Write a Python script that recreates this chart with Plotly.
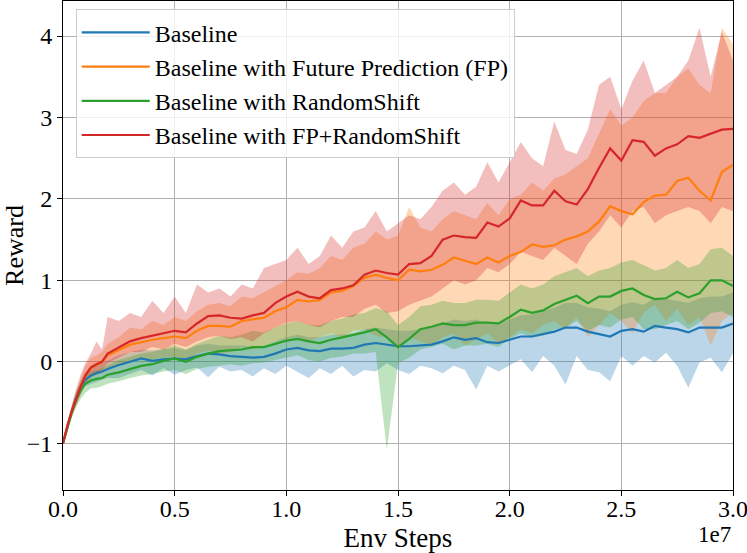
import plotly.graph_objects as go

# Env steps in units of 1e7
env_steps = [0, 0.02, 0.04, 0.06, 0.08, 0.1, 0.125, 0.15, 0.175, 0.2,
             0.25, 0.3, 0.35, 0.4, 0.45, 0.5, 0.55, 0.6, 0.65, 0.7, 0.75, 0.8, 0.85, 0.9, 0.95, 1.0,
             1.05, 1.1, 1.15, 1.2, 1.25, 1.3, 1.35, 1.4, 1.45, 1.5, 1.55, 1.6, 1.65, 1.7, 1.75, 1.8,
             1.85, 1.9, 1.95, 2.0, 2.05, 2.1, 2.15, 2.2, 2.25, 2.3, 2.35, 2.4, 2.45, 2.5, 2.55, 2.6,
             2.65, 2.7, 2.75, 2.8, 2.85, 2.9, 2.95, 3.0]

baseline_mean = [-1.0, -0.79, -0.6, -0.43, -0.3, -0.22, -0.17, -0.14, -0.12, -0.09,
                 -0.04, 0.0, 0.04, 0.01, 0.03, 0.04, 0.03, 0.07, 0.1, 0.09, 0.07, 0.06, 0.05, 0.06, 0.1, 0.15,
                 0.17, 0.14, 0.13, 0.16, 0.16, 0.17, 0.21, 0.23, 0.21, 0.19, 0.19, 0.2, 0.21, 0.25, 0.3, 0.27,
                 0.29, 0.24, 0.23, 0.27, 0.31, 0.31, 0.34, 0.37, 0.42, 0.42, 0.37, 0.34, 0.31, 0.38, 0.4, 0.37,
                 0.44, 0.42, 0.4, 0.36, 0.42, 0.42, 0.42, 0.47]
baseline_low = [-1.02, -0.82, -0.65, -0.5, -0.38, -0.3, -0.27, -0.24, -0.22, -0.2,
                -0.2, -0.15, -0.1, -0.17, -0.08, -0.16, -0.1, -0.07, -0.19, -0.06, -0.12, -0.1, -0.18, -0.08, -0.15, -0.05,
                -0.12, -0.2, -0.08, -0.15, -0.05, -0.18, -0.1, -0.12, -0.02, -0.1, -0.15, -0.05, -0.08, -0.14, -0.05, -0.1,
                -0.34, -0.05, -0.12, -0.05, 0.03, -0.13, 0.07, -0.05, -0.28, 0.07, -0.1, -0.13, -0.24, 0.07, -0.05, 0.07,
                -0.01, 0.11, -0.05, -0.32, -0.01, 0.05, -0.13, 0.1]
baseline_high = [-0.98, -0.76, -0.55, -0.36, -0.22, -0.13, -0.07, -0.05, -0.02, 0.02,
                 0.08, 0.12, 0.15, 0.14, 0.15, 0.17, 0.14, 0.2, 0.22, 0.2, 0.2, 0.2, 0.18, 0.2, 0.25, 0.3,
                 0.33, 0.3, 0.3, 0.33, 0.33, 0.35, 0.4, 0.42, 0.4, 0.38, 0.38, 0.4, 0.42, 0.47, 0.52, 0.5,
                 0.52, 0.47, 0.47, 0.52, 0.57, 0.58, 0.62, 0.66, 0.72, 0.72, 0.67, 0.65, 0.62, 0.7, 0.73, 0.7,
                 0.78, 0.77, 0.75, 0.72, 0.78, 0.8, 0.8, 0.85]

fp_mean = [-1.0, -0.78, -0.6, -0.44, -0.3, -0.17, -0.08, -0.04, -0.01, 0.08,
           0.14, 0.21, 0.24, 0.27, 0.29, 0.31, 0.29, 0.38, 0.44, 0.44, 0.43, 0.5, 0.52, 0.54, 0.62, 0.67,
           0.76, 0.74, 0.76, 0.85, 0.87, 0.93, 1.03, 1.07, 1.03, 1.0, 1.13, 1.11, 1.13, 1.19, 1.28, 1.24,
           1.2, 1.28, 1.22, 1.3, 1.35, 1.44, 1.41, 1.43, 1.5, 1.54, 1.6, 1.72, 1.91, 1.85, 1.81, 1.96,
           2.04, 2.05, 2.22, 2.26, 2.1, 1.98, 2.33, 2.42]
fp_low = [-1.02, -0.82, -0.66, -0.52, -0.4, -0.28, -0.2, -0.16, -0.14, -0.08,
          -0.05, 0.0, 0.02, 0.03, 0.05, 0.06, 0.02, 0.1, 0.14, 0.1, 0.12, 0.18, 0.15, 0.2, 0.25, 0.28,
          0.3, 0.25, 0.3, 0.35, 0.3, 0.38, 0.4, 0.32, 0.3, 0.15, 0.3, 0.25, 0.2, 0.3, 0.35, 0.2,
          0.28, 0.35, 0.22, 0.3, 0.4, 0.35, 0.45, 0.5, 0.4, 0.55, 0.3, 0.45, 0.6, 0.5, 0.35, 0.6,
          0.7, 0.5, 0.65, 0.45, 0.55, 0.2, 0.5, 0.6]
fp_high = [-0.98, -0.74, -0.54, -0.36, -0.2, -0.05, 0.05, 0.08, 0.12, 0.22,
           0.3, 0.42, 0.4, 0.5, 0.45, 0.55, 0.5, 0.62, 0.7, 0.72, 0.68, 0.8, 0.78, 0.85, 0.92, 1.0,
           1.1, 1.08, 1.15, 1.3, 1.25, 1.4, 1.45, 1.6, 1.5, 1.55, 1.9, 1.65, 1.6, 1.75, 1.85, 1.8,
           1.75, 1.95, 1.8, 2.0, 2.05, 2.2, 2.1, 2.25, 2.3, 2.4, 2.5, 2.8, 3.1, 2.9, 3.0, 3.2,
           3.3, 3.3, 3.5, 3.6, 3.4, 3.3, 4.1, 3.9]

rs_mean = [-1.0, -0.8, -0.62, -0.46, -0.35, -0.27, -0.23, -0.21, -0.2, -0.16,
           -0.13, -0.09, -0.05, -0.03, 0.01, 0.04, 0.0, 0.06, 0.1, 0.13, 0.14, 0.15, 0.18, 0.18, 0.22, 0.26,
           0.28, 0.25, 0.23, 0.27, 0.3, 0.33, 0.36, 0.4, 0.3, 0.18, 0.28, 0.4, 0.43, 0.47, 0.45, 0.45,
           0.48, 0.48, 0.47, 0.55, 0.64, 0.6, 0.63, 0.71, 0.76, 0.81, 0.72, 0.8, 0.8, 0.87, 0.9, 0.82,
           0.77, 0.78, 0.86, 0.79, 0.84, 1.0, 1.0, 0.93]
rs_low = [-1.02, -0.84, -0.68, -0.55, -0.45, -0.38, -0.33, -0.32, -0.3, -0.27,
          -0.24, -0.2, -0.17, -0.15, -0.12, -0.1, -0.15, -0.09, -0.06, -0.05, -0.03, -0.05, -0.02, -0.01, 0.02, 0.05,
          0.08, 0.02, 0.0, 0.05, 0.06, 0.1, 0.1, 0.12, -1.08, -0.02, 0.05, 0.15, 0.18, 0.22, 0.15, 0.2,
          0.2, 0.22, 0.18, 0.28, 0.35, 0.3, 0.32, 0.4, 0.42, 0.5, 0.38, 0.45, 0.42, 0.52, 0.55, 0.4,
          0.4, 0.45, 0.5, 0.4, 0.48, 0.6, 0.62, 0.55]
rs_high = [-0.98, -0.76, -0.56, -0.38, -0.26, -0.17, -0.12, -0.1, -0.08, -0.04,
           0.02, 0.06, 0.1, 0.12, 0.16, 0.2, 0.15, 0.22, 0.27, 0.32, 0.3, 0.33, 0.38, 0.36, 0.42, 0.47,
           0.5, 0.45, 0.45, 0.5, 0.53, 0.58, 0.6, 0.66, 0.62, 0.45, 0.55, 0.68, 0.7, 0.75, 0.72, 0.72,
           0.76, 0.76, 0.75, 0.85, 0.95, 0.9, 0.95, 1.05, 1.1, 1.15, 1.05, 1.12, 1.15, 1.22, 1.25, 1.18,
           1.12, 1.15, 1.25, 1.15, 1.2, 1.38, 1.4, 1.3]

fprs_mean = [-1.0, -0.78, -0.6, -0.44, -0.3, -0.17, -0.07, -0.03, 0.0, 0.1,
             0.17, 0.25, 0.29, 0.32, 0.35, 0.38, 0.36, 0.47, 0.56, 0.57, 0.54, 0.53, 0.57, 0.6, 0.72, 0.8,
             0.86, 0.8, 0.78, 0.88, 0.9, 0.94, 1.07, 1.12, 1.09, 1.07, 1.2, 1.21, 1.3, 1.5, 1.55, 1.53,
             1.52, 1.71, 1.66, 1.76, 1.98, 1.92, 1.92, 2.1, 1.97, 1.93, 2.12, 2.38, 2.62, 2.47, 2.72, 2.7,
             2.53, 2.62, 2.67, 2.77, 2.75, 2.8, 2.85, 2.86]
fprs_low = [-1.02, -0.82, -0.66, -0.52, -0.38, -0.26, -0.18, -0.14, -0.1, -0.02,
            0.05, 0.12, 0.12, 0.18, 0.15, 0.22, 0.18, 0.25, 0.3, 0.32, 0.28, 0.3, 0.25, 0.35, 0.42, 0.48,
            0.5, 0.45, 0.42, 0.5, 0.55, 0.55, 0.65, 0.7, 0.6, 0.62, 0.7, 0.75, 0.8, 0.9, 1.0, 0.95,
            1.0, 1.15, 1.1, 1.2, 1.35, 1.3, 1.25, 1.4, 1.3, 1.2, 1.45, 1.6, 1.8, 1.65, 1.85, 1.9,
            1.7, 1.8, 1.85, 1.9, 1.85, 1.7, 1.9, 1.85]
fprs_high = [-0.98, -0.74, -0.52, -0.32, -0.15, -0.02, 0.1, 0.25, 0.15, 0.55,
             0.5, 0.6, 0.55, 0.75, 0.6, 0.8, 0.6, 0.95, 0.85, 0.9, 0.8, 0.95, 0.9, 1.15, 1.2, 1.25,
             1.4, 1.2, 1.3, 1.55, 1.4, 1.6, 1.65, 1.85, 1.6, 1.7, 1.8, 1.75, 1.9, 2.1, 2.2, 2.05,
             2.15, 2.45, 2.2, 2.45, 2.7, 2.5, 2.4, 2.95, 2.6, 2.55, 2.85, 3.4, 3.5, 3.1, 3.45, 3.7,
             3.3, 3.4, 3.5, 3.7, 4.1, 3.5, 4.05, 3.7]

series_names = ["Baseline", "Baseline with Future Prediction (FP)",
                "Baseline with RandomShift", "Baseline with FP+RandomShift"]
colors = ["#1f77b4", "#ff7f0e", "#2ca02c", "#d62728"]
fills = ["rgba(31,119,180,0.3)", "rgba(255,127,14,0.3)",
         "rgba(44,160,44,0.3)", "rgba(214,39,40,0.3)"]
means = [baseline_mean, fp_mean, rs_mean, fprs_mean]
lows = [baseline_low, fp_low, rs_low, fprs_low]
highs = [baseline_high, fp_high, rs_high, fprs_high]

FONT = "Liberation Serif, Times New Roman, serif"

fig = go.Figure()
for i in range(4):
    fig.add_trace(go.Scatter(x=env_steps, y=highs[i], mode="lines",
                             line=dict(width=0, color=fills[i]),
                             showlegend=False, hoverinfo="skip"))
    fig.add_trace(go.Scatter(x=env_steps, y=lows[i], mode="lines",
                             line=dict(width=0, color=fills[i]),
                             fill="tonexty", fillcolor=fills[i],
                             showlegend=False, hoverinfo="skip"))
for i in range(4):
    fig.add_trace(go.Scatter(x=env_steps, y=means[i], mode="lines",
                             name=series_names[i], legendgroup="g%d" % i,
                             line=dict(width=2.2, color=colors[i])))

axis_common = dict(
    showline=True, linecolor="black", linewidth=1, mirror=True,
    ticks="outside", ticklen=5, tickwidth=1, tickcolor="black",
    showgrid=True, gridcolor="#b0b0b0", gridwidth=1, zeroline=False,
    tickfont=dict(family=FONT, size=24, color="black"),
    ticklabeloverflow="allow",
)

fig.update_layout(
    width=747, height=553,
    margin=dict(l=63, r=14, t=1, b=63, autoexpand=False),
    paper_bgcolor="white", plot_bgcolor="white",
    font=dict(family=FONT, color="black"),
    xaxis=dict(range=[0, 3.0],
               tickvals=[0, 0.5, 1.0, 1.5, 2.0, 2.5, 3.0],
               ticktext=["0.0", "0.5", "1.0", "1.5", "2.0", "2.5", "3.0"],
               ticklabelstandoff=-8,
               title=dict(text="Env Steps", font=dict(family=FONT, size=27), standoff=10),
               **axis_common),
    yaxis=dict(range=[-1.575, 4.43],
               tickvals=[-1, 0, 1, 2, 3, 4],
               ticktext=["\u22121", "0", "1", "2", "3", "4"],
               title=dict(text="Reward", font=dict(family=FONT, size=26), standoff=6),
               **axis_common),
    legend=dict(x=0.019, y=0.983, xanchor="left", yanchor="top",
                bgcolor="rgba(255,255,255,0.8)", bordercolor="#cccccc", borderwidth=1,
                font=dict(family=FONT, size=24, color="black"),
                itemwidth=68, tracegroupgap=0),
    annotations=[dict(text="1e7", x=1.0, y=-0.09, xref="paper", yref="paper",
                      xanchor="right", yanchor="middle", showarrow=False,
                      font=dict(family=FONT, size=23, color="black"))],
)

fig.write_html("out.html", config={"displayModeBar": False},
               post_script="document.body.style.margin='0';")
